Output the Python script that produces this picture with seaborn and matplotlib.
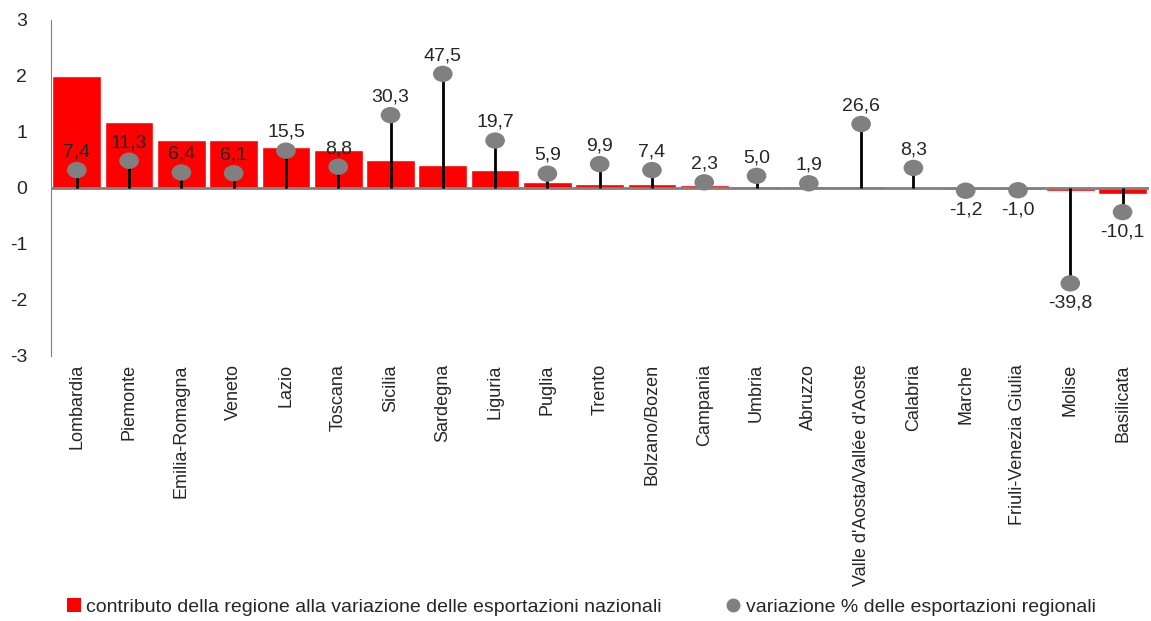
import numpy as np
import pandas as pd
import matplotlib.pyplot as plt
import seaborn as sns
from matplotlib.lines import Line2D
from matplotlib.patches import Patch
from matplotlib.path import Path

# Regional export data
regioni = ["Lombardia", "Piemonte", "Emilia-Romagna", "Veneto", "Lazio", "Toscana",
           "Sicilia", "Sardegna", "Liguria", "Puglia", "Trento", "Bolzano/Bozen",
           "Campania", "Umbria", "Abruzzo", "Valle d'Aosta/Vallée d'Aoste",
           "Calabria", "Marche", "Friuli-Venezia Giulia", "Molise", "Basilicata"]
contributo = [2.00, 1.18, 0.86, 0.86, 0.73, 0.68, 0.50, 0.41, 0.32, 0.11, 0.07,
              0.07, 0.05, 0.04, 0.04, 0.03, 0.00, -0.03, -0.03, -0.05, -0.11]
variazione = [7.4, 11.3, 6.4, 6.1, 15.5, 8.8, 30.3, 47.5, 19.7, 5.9, 9.9, 7.4,
              2.3, 5.0, 1.9, 26.6, 8.3, -1.2, -1.0, -39.8, -10.1]

df = pd.DataFrame({"Regione": regioni, "Contributo": contributo, "Variazione": variazione})

sns.set_style("white")
plt.rcParams["font.family"] = ["Liberation Sans", "DejaVu Sans"]
plt.rcParams["axes.unicode_minus"] = False

# slightly flattened circle, like the reference markers
circ = Path.unit_circle()
ellipse = Path(circ.vertices * np.array([1.2, 1.0]), circ.codes)

fig = plt.figure(figsize=(11.51, 6.21), dpi=100)
ax = fig.add_axes([0.044, 0.427, 0.954, 0.541])

# Bars: contribution of each region (left axis)
sns.barplot(data=df, x="Regione", y="Contributo", color="#ff0000", saturation=1,
            width=0.93, ax=ax)
ax.set_ylim(-3, 3)
ax.set_xlim(-0.5, len(regioni) - 0.5)
ax.set_yticks(range(-3, 4))
ax.set_xlabel("")
ax.set_ylabel("")
ax.tick_params(axis="y", labelsize=14, length=0, pad=17)
ax.tick_params(axis="x", labelsize=13, length=0, rotation=90, pad=6)
for s in ["top", "right", "bottom"]:
    ax.spines[s].set_visible(False)
ax.spines["left"].set_color("#808080")
ax.axhline(0, color="#808080", lw=2, zorder=3)

# Lollipops: regional % change (hidden secondary axis)
ax2 = ax.twinx()
ax2.set_ylim(-70, 70)
ax2.vlines(range(len(regioni)), 0, df["Variazione"], color="black", lw=2, zorder=4)
sns.scatterplot(data=df, x="Regione", y="Variazione", color="#808080", s=200,
                marker=ellipse, edgecolor="none", ax=ax2, zorder=5)
for i, v in enumerate(variazione):
    lab = f"{v:.1f}".replace(".", ",")
    if v >= 0:
        ax2.annotate(lab, (i, v), xytext=(0, 7), textcoords="offset points",
                     ha="center", va="bottom", fontsize=14)
    else:
        ax2.annotate(lab, (i, v), xytext=(0, -8), textcoords="offset points",
                     ha="center", va="top", fontsize=14)
ax2.set_yticks([])
ax2.set_ylabel("")
ax2.set_xlim(-0.5, len(regioni) - 0.5)
for s in ax2.spines.values():
    s.set_visible(False)

handles = [Patch(facecolor="#ff0000", edgecolor="none"),
           Line2D([], [], marker="o", color="#808080", linestyle="none", markersize=9)]
labels = ["contributo della regione alla variazione delle esportazioni nazionali",
          "variazione % delle esportazioni regionali"]
fig.legend(handles, labels, loc="lower center", bbox_to_anchor=(0.505, -0.02), ncol=2,
           frameon=False, fontsize=14, handlelength=0.7, handletextpad=0.3,
           columnspacing=3.3)

plt.savefig("out.png")
